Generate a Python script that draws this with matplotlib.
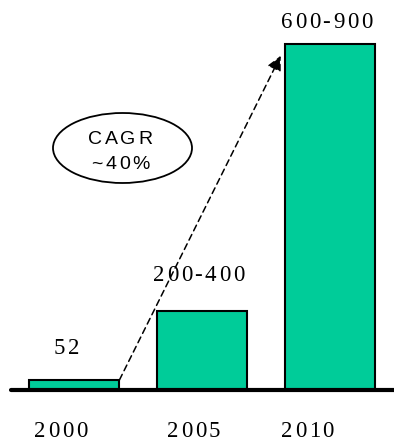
import matplotlib
matplotlib.use("Agg")
import matplotlib.pyplot as plt
from matplotlib.patches import Ellipse
from matplotlib.transforms import IdentityTransform
from matplotlib.font_manager import FontProperties

# --- data ---
years = ["2000", "2005", "2010"]
bar_heights = [26, 205, 900]          # relative bar heights
value_labels = ["52", "200-400", "600-900"]
cagr_lines = ["CAGR", "~40%"]

bar_color = "#00CC99"
plt.rcParams["lines.scale_dashes"] = False

fig = plt.figure(figsize=(3.94, 4.41), dpi=100)
W, H = 394, 441
renderer = fig.canvas.get_renderer()
# axes bottom = baseline, left edge = start of baseline
ax = fig.add_axes([11 / W, 51 / H, (W - 11) / W, 390 / H])
ax.set_xlim(-0.492, -0.492 + 383 / 128)
ax.set_ylim(0, 1014.5)

bw = 0.71
x = list(range(len(years)))
ax.bar(x, bar_heights, width=bw, color=bar_color, edgecolor="black", linewidth=1.5, zorder=3)

for s in ["top", "left", "right"]:
    ax.spines[s].set_visible(False)
ax.spines["bottom"].set_linewidth(3)
ax.spines["bottom"].set_zorder(4)
ax.spines["bottom"].set_capstyle("round")
ax.set_xticks([])
ax.set_yticks([])


def text_w(s, fp):
    if not s:
        return 0.0
    w, _, _ = renderer.get_text_width_height_descent(s, fp, ismath=False)
    return w


def tracked(s, xy, off, size, family, track, coords="data"):
    # draw text one char at a time so letters get the wide spacing of the original
    fp = FontProperties(family=family, size=size)
    total = text_w(s, fp) + track * (len(s) - 1)
    left = off[0] - total / 2
    for k, c in enumerate(s):
        px = left + text_w(s[:k], fp) + track * k
        ax.annotate(c, xy=xy, xycoords=coords, xytext=(px, off[1]),
                    textcoords="offset pixels", ha="left", va="baseline",
                    fontproperties=fp, annotation_clip=False, zorder=7)


serif = "Liberation Serif"
label_dx = [-7.5, -3.5, -3.5]
label_dy = [26, 30, 16]
year_dx = [-13, -8.5, -22.5]
for i in x:
    tracked(value_labels[i], (i, bar_heights[i]), (label_dx[i], label_dy[i]), 16.5, serif, 2.5)
    tracked(years[i], (i, 0), (year_dx[i], -47), 16.5, serif, 2.5)

# CAGR bubble (pixel coordinates)
ell = Ellipse((122.5, H - 148), 139, 70, transform=IdentityTransform(), facecolor="white",
              edgecolor="black", linewidth=1.3, zorder=5, clip_on=False)
ax.add_patch(ell)
tracked(cagr_lines[0], (120, H - 144), (0, 0), 14, "Liberation Sans", 2.7, coords="figure pixels")
tracked(cagr_lines[1], (120.5, H - 169), (0, 0), 14, "Liberation Sans", 2.7, coords="figure pixels")

# growth arrow from top of first bar to top of last bar
ax.annotate("", xy=(2 - bw / 2 - 0.03, bar_heights[2] * 0.966),
            xytext=(0 + bw / 2, bar_heights[0]),
            arrowprops=dict(arrowstyle="-|>", color="black", linewidth=1.1,
                            linestyle=(0, (4.5, 3)), mutation_scale=22,
                            shrinkA=0, shrinkB=0),
            annotation_clip=False, zorder=5)

fig.savefig("out.png", dpi=100)
